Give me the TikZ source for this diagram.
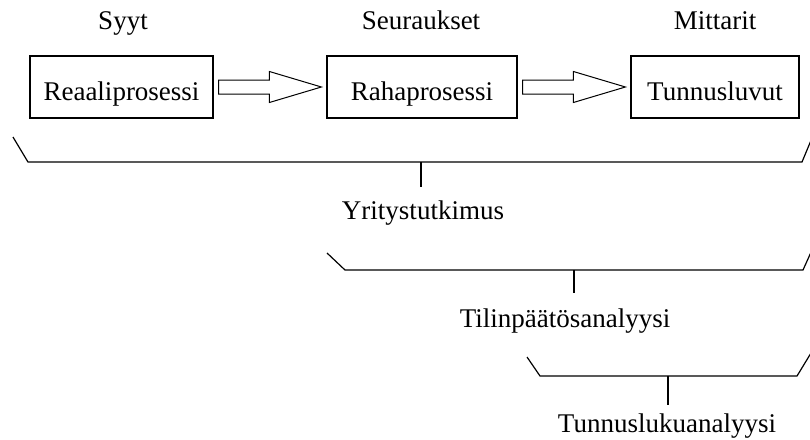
\documentclass[tikz,border=0pt]{standalone}
\usepackage{fontspec}
\setmainfont{Liberation Serif}
\usetikzlibrary{calc}
% hollow block arrow between two boxes
\newcommand{\hollowarrow}[2]{%
  \draw[hollow] ($(#1.east)+(5,-7)$) -- ($(#2.west)+(-57,-7)$)
    -- ($(#2.west)+(-57,-15.5)$) -- ($(#2.west)+(-5,0)$)
    -- ($(#2.west)+(-57,15.5)$) -- ($(#2.west)+(-57,7)$)
    -- ($(#1.east)+(5,7)$) -- cycle;}
\begin{document}
\begin{tikzpicture}[x=1pt,y=-1pt]
  \tikzstyle{lbl}=[font=\fontsize{27}{32}\selectfont,inner sep=0pt,anchor=base]
  \tikzstyle{box}=[draw,line width=1.2pt,minimum height=62pt]
  \tikzstyle{hollow}=[line width=1pt]
  \tikzstyle{brace}=[line width=1.2pt]
  \useasboundingbox (0,0) rectangle (810,439);
  % headings
  \node[lbl] (syyt) at (123,29) {Syyt};
  \node[lbl] (seur) at (421,29) {Seuraukset};
  \node[lbl] (mitt) at (715,29) {Mittarit};
  % process boxes
  \node[box,minimum width=183pt] (reaali) at (121.5,87) {};
  \node[box,minimum width=190pt] (raha) at (422,87) {};
  \node[box,minimum width=168pt] (tunnus) at (715,87) {};
  \node[lbl] (reaalit) at (121.5,100) {Reaaliprosessi};
  \node[lbl] (rahat) at (422,100) {Rahaprosessi};
  \node[lbl] (tunnust) at (715,100) {Tunnusluvut};
  \hollowarrow{reaali}{raha}
  \hollowarrow{raha}{tunnus}
  % yritystutkimus
  \draw[brace] (13,137) -- (28,162) -- (802,162) -- (812,138);
  \coordinate (b1) at (421,162);
  \coordinate (b1end) at (421,187);
  \draw[brace] (b1) -- (b1end);
  \node[lbl] (yritys) at (423,219) {Yritystutkimus};
  % tilinpaatosanalyysi
  \draw[brace] (327,253) -- (345,270) -- (803,270) -- (812,250);
  \coordinate (b2) at (574,270);
  \coordinate (b2end) at (574,293);
  \draw[brace] (b2) -- (b2end);
  \node[lbl] (tilin) at (565,327) {Tilinpäätösanalyysi};
  % tunnuslukuanalyysi
  \draw[brace] (527,357) -- (540,376) -- (797,376) -- (811,353);
  \coordinate (b3) at (668,376);
  \coordinate (b3end) at (668,405);
  \draw[brace] (b3) -- (b3end);
  \node[lbl] (tunnusa) at (667,432) {Tunnuslukuanalyysi};
\end{tikzpicture}
\end{document}
